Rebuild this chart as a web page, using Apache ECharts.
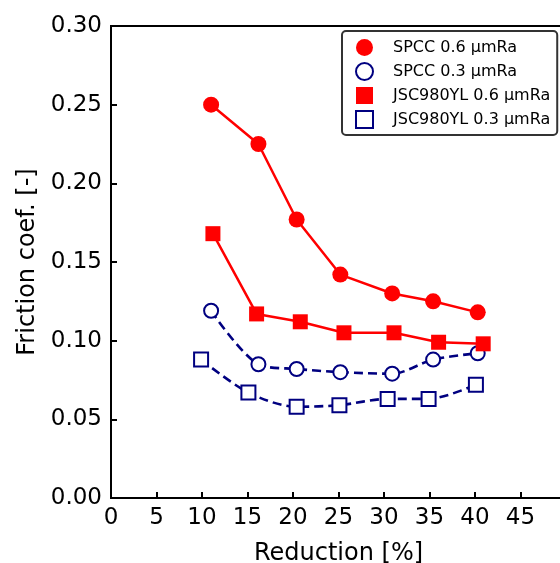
<!DOCTYPE html>
<html>
<head>
<meta charset="utf-8">
<script src="https://cdn.jsdelivr.net/npm/echarts@6/dist/echarts.min.js"></script>
<style>
html,body{margin:0;padding:0;background:#fff;}
#chart{width:560px;height:563px;}
</style>
</head>
<body>
<div id="chart"></div>
<script>
var seriesNames = ['SPCC 0.6 \u03bcmRa', 'SPCC 0.3 \u03bcmRa', 'JSC980YL 0.6 \u03bcmRa', 'JSC980YL 0.3 \u03bcmRa'];
var spcc06X = [11.0, 16.2, 20.4, 25.2, 30.9, 35.4, 40.3];
var spcc06Y = [0.250, 0.225, 0.177, 0.142, 0.130, 0.125, 0.118];
var spcc03X = [11.0, 16.2, 20.4, 25.2, 30.9, 35.4, 40.3];
var spcc03Y = [0.119, 0.085, 0.082, 0.080, 0.079, 0.088, 0.092];
var jsc06X = [11.2, 16.0, 20.8, 25.6, 31.1, 36.0, 40.9];
var jsc06Y = [0.168, 0.117, 0.112, 0.105, 0.105, 0.099, 0.098];
var jsc03X = [9.9, 15.1, 20.4, 25.1, 30.4, 34.9, 40.1];
var jsc03Y = [0.088, 0.067, 0.058, 0.059, 0.063, 0.063, 0.072];
var xTickLabels = ['0','5','10','15','20','25','30','35','40','45'];
var yTickLabels = ['0.00','0.05','0.10','0.15','0.20','0.25','0.30'];

function pairs(xs, ys){ return xs.map(function(x,i){ return [x, ys[i]]; }); }

var FONT = 'DejaVu Sans';
var chart = echarts.init(document.getElementById('chart'), null, {renderer:'canvas'});
chart.setOption({
  animation:false,
  backgroundColor:'#fff',
  textStyle:{fontFamily:FONT},
  grid:{left:111, top:26, bottom:65, right:-6, outerBoundsMode:'none', containLabel:false,
    show:true, borderColor:'#000', borderWidth:2, backgroundColor:'transparent'},
  legend:{
    orient:'vertical', left:342, top:31,
    padding:[8,7,6,13],
    itemWidth:17, itemHeight:17, itemGap:6,
    borderColor:'#333', borderWidth:2, borderRadius:4,
    backgroundColor:'#fff',
    textStyle:{fontFamily:FONT, fontSize:16, color:'#000', padding:[0,0,0,15]},
    data:[
      {name:seriesNames[0], icon:'circle'},
      {name:seriesNames[1], icon:'emptyCircle'},
      {name:seriesNames[2], icon:'rect'},
      {name:seriesNames[3], icon:'emptyRect'}
    ]
  },
  xAxis:{
    type:'value', min:0, max:50, interval:5,
    name:'Reduction [%]', nameLocation:'middle', nameGap:44,
    nameTextStyle:{fontFamily:FONT, fontSize:24, color:'#000'},
    axisLine:{show:true, lineStyle:{color:'#000', width:2}},
    axisTick:{show:true, inside:true, length:6, lineStyle:{color:'#000', width:2}},
    axisLabel:{fontFamily:FONT, fontSize:23, color:'#000', margin:9,
      formatter:function(v){ var i = Math.round(v/5); return i < xTickLabels.length ? xTickLabels[i] : ''; }},
    splitLine:{show:false}
  },
  yAxis:{
    type:'value', min:0, max:0.30, interval:0.05,
    name:'Friction coef. [-]', nameLocation:'middle', nameGap:60, nameRotate:90,
    nameTextStyle:{fontFamily:FONT, fontSize:24, color:'#000'},
    axisLine:{show:true, lineStyle:{color:'#000', width:2}},
    axisTick:{show:true, inside:true, length:6, lineStyle:{color:'#000', width:2}},
    axisLabel:{fontFamily:FONT, fontSize:23, color:'#000', margin:9,
      formatter:function(v){ var i = Math.round(v/0.05); return yTickLabels[i]; }},
    splitLine:{show:false}
  },
  series:[
    {name:seriesNames[0], type:'line', data:pairs(spcc06X, spcc06Y), z:4,
      symbol:'circle', symbolSize:16, color:'#ff0000',
      itemStyle:{color:'#ff0000'}, lineStyle:{color:'#ff0000', width:2.5}},
    {name:seriesNames[1], type:'line', data:pairs(spcc03X, spcc03Y), z:2, smooth:0.3,
      symbol:'emptyCircle', symbolSize:14, color:'#000080',
      itemStyle:{color:'#000080', borderColor:'#000080', borderWidth:1.5},
      lineStyle:{color:'#000080', width:2.6, type:[9,5]}},
    {name:seriesNames[2], type:'line', data:pairs(jsc06X, jsc06Y), z:4,
      symbol:'rect', symbolSize:15, color:'#ff0000',
      itemStyle:{color:'#ff0000'}, lineStyle:{color:'#ff0000', width:2.5}},
    {name:seriesNames[3], type:'line', data:pairs(jsc03X, jsc03Y), z:2, smooth:0.3,
      symbol:'emptyRect', symbolSize:14, color:'#000080',
      itemStyle:{color:'#000080', borderColor:'#000080', borderWidth:1.5},
      lineStyle:{color:'#000080', width:2.6, type:[9,5]}}
  ]
});
</script>
</body>
</html>
